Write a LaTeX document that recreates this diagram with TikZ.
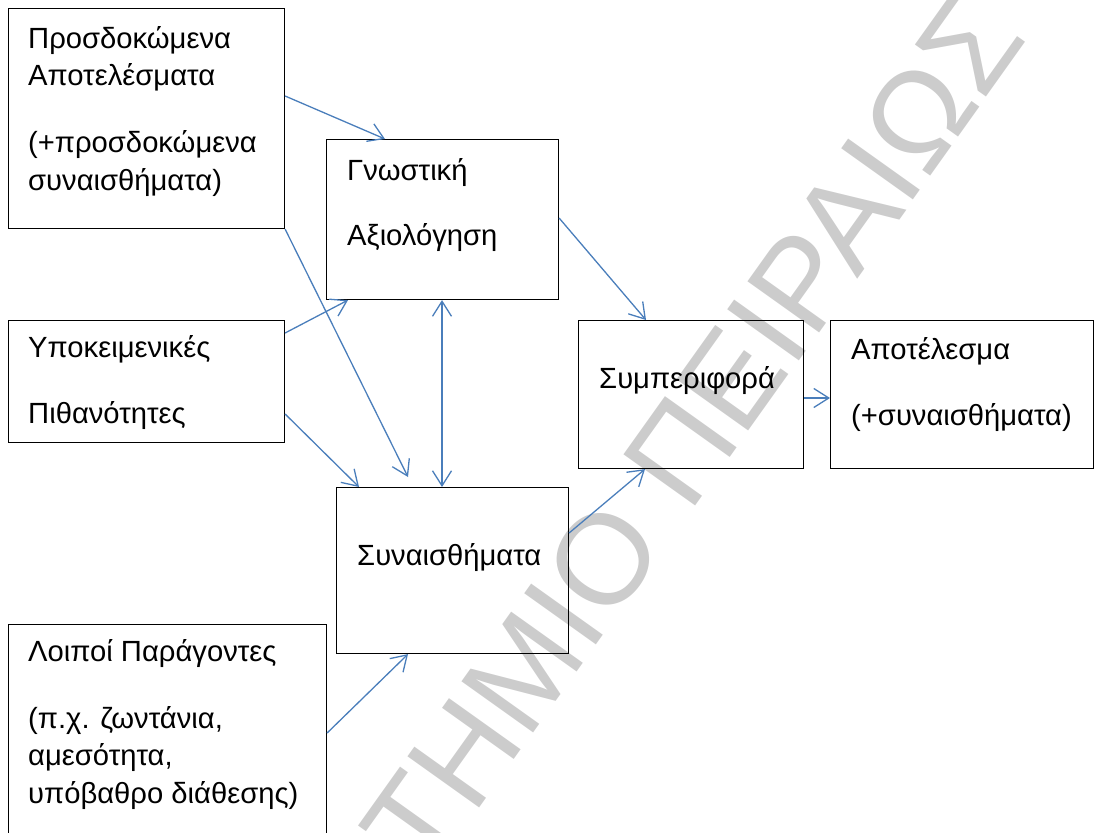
\documentclass[tikz,border=0pt]{standalone}
\usepackage{fontspec}
\setmainfont{Liberation Sans}
\usetikzlibrary{arrows.meta}
\definecolor{arrowblue}{HTML}{4A7EBB}
\begin{document}
\begin{tikzpicture}[
		x=1pt, y=-1pt,
		>={Straight Barb[length=15pt,width=19pt]},
		box/.style={draw, line width=1.1pt, anchor=north west, inner sep=0pt},
		txt/.style={anchor=base west, align=left, inner sep=0pt, font=\fontsize{29.2}{37.5}\selectfont},
		arr/.style={draw=arrowblue, line width=1.3pt, ->},
		wmark/.style={text=black!20, rotate=54.5, inner sep=0pt, font=\fontsize{128}{128}\selectfont}
	]
	\useasboundingbox (0,0) rectangle (1094,832);
	\clip (0,0) rectangle (1094,832);
	% watermark
	\node[wmark, anchor=base east] (wmleft) at (668,544) {ΠΑΝΕΠΙΣΤΗΜΙΟ};
	\node[wmark, anchor=base west] (wmright) at (689,515) {ΠΕΙΡΑΙΩΣ};
	% boxes
	\node[box, minimum width=276pt, minimum height=220pt] (expect) at (8,8) {};
	\node[box, minimum width=232pt, minimum height=160pt] (appraise) at (326,139) {};
	\node[box, minimum width=276pt, minimum height=122pt] (probs) at (8,320) {};
	\node[box, minimum width=232pt, minimum height=166pt] (emotions) at (336,487) {};
	\node[box, minimum width=225pt, minimum height=148pt] (behav) at (578,320) {};
	\node[box, minimum width=263pt, minimum height=148pt] (outcome) at (830,320) {};
	\node[box, minimum width=318pt, minimum height=260pt] (factors) at (8,624) {};
	% texts (placed at the baseline of their last line)
	\node[txt] (expecttxt) at (28,190) {Προσδοκώμενα\\Αποτελέσματα\\[29.5pt](+προσδοκώμενα\\συναισθήματα)};
	\node[txt] (appraisetxt) at (347,245) {Γνωστική\\[27.5pt]Αξιολόγηση};
	\node[txt] (probstxt) at (28,423) {Υποκειμενικές\\[28.5pt]Πιθανότητες};
	\node[txt] (emotionstxt) at (357,565) {Συναισθήματα};
	\node[txt] (behavtxt) at (599,388) {Συμπεριφορά};
	\node[txt] (outcometxt) at (851,425) {Αποτέλεσμα\\[28.5pt](+συναισθήματα)};
	\node[txt] (factorstxt) at (28,803) {Λοιποί Παράγοντες\\[29.5pt](π.χ. ζωντάνια,\\αμεσότητα,\\υπόβαθρο διάθεσης)};
	% arrows
	\draw[arr] ([yshift=-88pt]expect.north east) -- ([xshift=59pt]appraise.north west);
	\draw[arr] (expect.south east) -- ([xshift=72pt,yshift=10pt]emotions.north west);
	\draw[arr] ([yshift=-13pt]probs.north east) -- ([xshift=22pt]appraise.south west);
	\draw[arr] ([yshift=-94pt]probs.north east) -- ([xshift=23pt]emotions.north west);
	\draw[arr, <->] ([xshift=116pt]appraise.south west) -- ([xshift=106pt]emotions.north west);
	\draw[arr] ([yshift=-79pt]appraise.north east) -- ([xshift=68pt]behav.north west);
	\draw[arr] ([yshift=-46pt]emotions.north east) -- ([xshift=67pt]behav.south west);
	\draw[arr] ([yshift=-109pt]factors.north east) -- ([xshift=72pt]emotions.south west);
	\draw[arr] ([yshift=-78pt]behav.north east) -- ([yshift=-78pt]outcome.north west);
\end{tikzpicture}
\end{document}
